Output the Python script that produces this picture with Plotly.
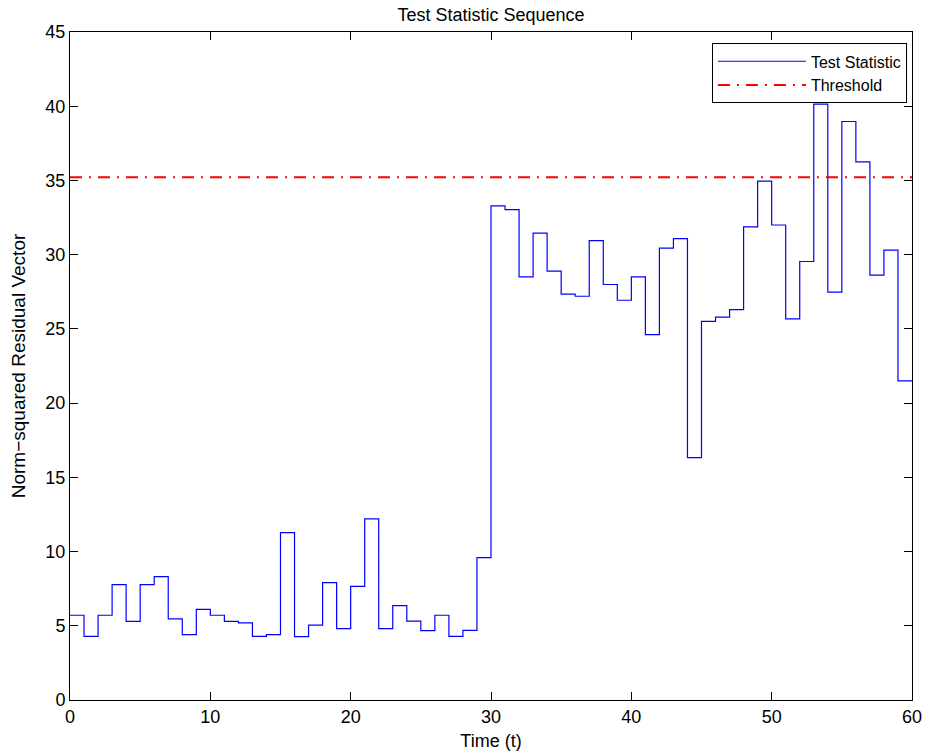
import plotly.graph_objects as go

# Test statistic per time step (t = 0..59), held until the next step
time_steps = list(range(0, 60))
test_statistic = [
    5.71, 4.29, 5.71, 7.77, 5.30, 7.77, 8.31, 5.46, 4.40, 6.11,
    5.71, 5.30, 5.19, 4.29, 4.40, 11.27, 4.27, 5.05, 7.91, 4.81,
    7.66, 12.20, 4.81, 6.36, 5.32, 4.67, 5.71, 4.29, 4.69, 9.59,
    33.29, 33.04, 28.50, 31.45, 28.89, 27.34, 27.20, 30.95, 27.99, 26.93,
    28.50, 24.62, 30.44, 31.08, 16.33, 25.50, 25.79, 26.30, 31.87, 34.95,
    32.00, 25.67, 29.54, 40.14, 27.47, 38.97, 36.25, 28.62, 30.30, 21.50,
]
end_time = 60
threshold = 35.22

x_ticks = [0, 10, 20, 30, 40, 50, 60]
y_ticks = [0, 5, 10, 15, 20, 25, 30, 35, 40, 45]

FONT = "Liberation Sans, Arial, Helvetica, sans-serif"
FS = 19

fig = go.Figure()
fig.add_trace(go.Scatter(
    x=time_steps + [end_time],
    y=test_statistic + [test_statistic[-1]],
    mode="lines",
    line=dict(color="#0000ff", width=1.2, shape="hv"),
    name="Test Statistic",
))
fig.add_trace(go.Scatter(
    x=[x_ticks[0], x_ticks[-1]],
    y=[threshold, threshold],
    mode="lines",
    line=dict(color="#ff0000", width=2, dash="12px,7px,2px,7px"),
    name="Threshold",
))

axis_common = dict(
    showline=True, linecolor="black", linewidth=1, mirror="allticks",
    ticks="inside", ticklen=8, tickwidth=1, tickcolor="black",
    showgrid=False, zeroline=False, automargin=False,
    tickfont=dict(family=FONT, size=18, color="black"),
)

fig.update_layout(
    width=930, height=755,
    margin=dict(l=70, r=18, t=32, b=55),
    paper_bgcolor="white", plot_bgcolor="white",
    title=dict(text="Test Statistic Sequence", x=0.5, xanchor="center",
               xref="paper",
               y=1 - 15 / 755, yanchor="middle",
               font=dict(family=FONT, size=FS - 1, color="black")),
    xaxis=dict(range=[0, 60], tickvals=x_ticks,
               title=dict(text="Time (t)", standoff=8,
                          font=dict(family=FONT, size=FS - 1, color="black")),
               **axis_common),
    yaxis=dict(range=[0, 45], tickvals=y_ticks,
               title=dict(text="Norm\u2212squared Residual Vector", standoff=14,
                          font=dict(family=FONT, size=FS, color="black")),
               **axis_common),
    legend=dict(x=0.994, y=0.983, xanchor="right", yanchor="top",
                bgcolor="white", bordercolor="black", borderwidth=1,
                font=dict(family=FONT, size=16, color="black"),
                itemwidth=88, tracegroupgap=0),
    showlegend=True,
)

fig.write_html("out.html")
